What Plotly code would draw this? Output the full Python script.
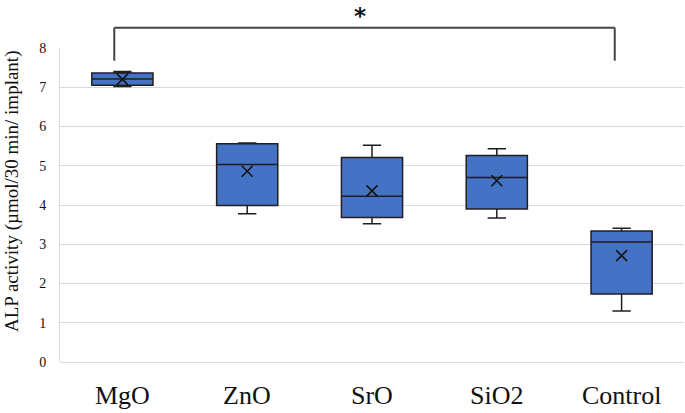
import plotly.graph_objects as go

categories = ["MgO", "ZnO", "SrO", "SiO2", "Control"]
q1_vals = [7.05, 3.99, 3.68, 3.90, 1.73]
median_vals = [7.21, 5.03, 4.22, 4.70, 3.06]
q3_vals = [7.36, 5.56, 5.21, 5.26, 3.34]
min_vals = [7.02, 3.78, 3.52, 3.67, 1.30]
max_vals = [7.40, 5.58, 5.52, 5.43, 3.41]
mean_vals = [7.20, 4.86, 4.36, 4.62, 2.71]
y_ticks = [0, 1, 2, 3, 4, 5, 6, 7, 8]
y_title = "ALP activity (µmol/30 min/ implant)"
signif_label = "*"

SERIF = "Liberation Serif, Times New Roman, serif"

fig = go.Figure()
fig.add_trace(go.Box(
    x=categories,
    q1=q1_vals, median=median_vals, q3=q3_vals,
    lowerfence=min_vals, upperfence=max_vals,
    fillcolor="#4472C4",
    line=dict(color="#1f1f1f", width=1.5),
    width=0.49,
    whiskerwidth=0.3,
    boxpoints=False,
    hoverinfo="skip",
    showlegend=False,
))
fig.add_trace(go.Scatter(
    x=categories, y=mean_vals, mode="markers",
    marker=dict(symbol="x-thin-open", size=11, color="#111111",
                line=dict(color="#111111", width=1.5)),
    showlegend=False, hoverinfo="skip",
))

annotations = []
for lab in categories:
    annotations.append(dict(
        text=lab, x=lab, y=-0.107, xref="x", yref="paper",
        showarrow=False, font=dict(family=SERIF, size=26, color="#111111"),
        xanchor="center", yanchor="middle"))
annotations.append(dict(
    text=y_title, x=-0.078, y=0.5455, xref="paper", yref="paper",
    textangle=-90, showarrow=False,
    font=dict(family=SERIF, size=19, color="#111111"),
    xanchor="center", yanchor="middle"))
annotations.append(dict(
    text="<b>" + signif_label + "</b>", x=0.481, y=1.150, xref="paper", yref="paper",
    showarrow=False, font=dict(family="DejaVu Sans, Arial, sans-serif", size=23, color="#111111"),
    xanchor="center", yanchor="top"))

bracket = dict(color="#444444", width=2)
shapes = [
    dict(type="line", xref="paper", yref="paper", x0=0.087, x1=0.889, y0=1.0646, y1=1.0646, line=bracket),
    dict(type="line", xref="paper", yref="paper", x0=0.087, x1=0.087, y0=0.9596, y1=1.0646, line=bracket),
    dict(type="line", xref="paper", yref="paper", x0=0.889, x1=0.889, y0=0.9596, y1=1.0646, line=bracket),
]

fig.update_layout(
    width=685, height=413,
    margin=dict(l=60, r=1, t=48, b=51, autoexpand=False),
    paper_bgcolor="white", plot_bgcolor="white",
    annotations=annotations, shapes=shapes,
    xaxis=dict(type="category", range=[-0.5, 4.5], showticklabels=False, automargin=False,
               showgrid=False, zeroline=False, showline=False, ticks=""),
    yaxis=dict(range=[0, 8], tickvals=y_ticks, showgrid=True, gridcolor="#d9d9d9",
               gridwidth=1, zeroline=True, zerolinecolor="#d9d9d9", zerolinewidth=1,
               showline=True, linecolor="#d9d9d9", linewidth=1, automargin=False,
               ticks="", ticklabelstandoff=10,
               tickfont=dict(family=SERIF, size=14, color="#111111")),
)

fig.write_html("out.html", config={"displayModeBar": False},
               post_script="document.body.style.margin='0px';")
